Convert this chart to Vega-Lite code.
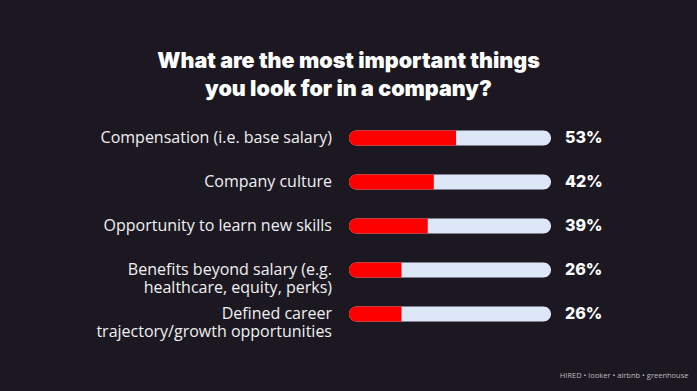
{
  "$schema": "https://vega.github.io/schema/vega-lite/v6.json",
  "width": 697,
  "height": 241,
  "autosize": {"type": "none"},
  "padding": {"top": 110, "left": 0, "right": 0, "bottom": 40},
  "background": "#1c1822",
  "config": {"view": {"stroke": null}},
  "title": {
    "text": ["What are the most important things", "you look for in a company?"],
    "font": "Inter",
    "fontWeight": 900,
    "fontSize": 21.5,
    "lineHeight": 28,
    "color": "#ffffff",
    "anchor": "middle",
    "frame": "group",
    "offset": 10
  },
  "data": {
    "values": [
      {"item": "Compensation (i.e. base salary)", "pct": 0.53},
      {"item": "Company culture", "pct": 0.42},
      {"item": "Opportunity to learn new skills", "pct": 0.39},
      {"item": "Benefits beyond salary (e.g.\nhealthcare, equity, perks)", "pct": 0.26},
      {"item": "Defined career\ntrajectory/growth opportunities", "pct": 0.26}
    ]
  },
  "encoding": {
    "y": {
      "field": "item",
      "type": "nominal",
      "sort": null,
      "scale": {"type": "point", "range": [28, 204], "padding": 0},
      "axis": null
    }
  },
  "layer": [
    {
      "mark": {"type": "bar", "color": "#dde7f7", "height": 15, "cornerRadius": 7.5},
      "encoding": {
        "x": {
          "datum": 0,
          "type": "quantitative",
          "scale": {"domain": [-1.7277, 1.7228], "nice": false, "zero": false},
          "axis": {
            "title": "HIRED • looker • airbnb • greenhouse",
            "labels": false,
            "ticks": false,
            "domain": false,
            "grid": false,
            "titleColor": "#bbbbbb",
            "titleFont": "Open Sans",
            "titleFontSize": 7.5,
            "titleFontWeight": "normal",
            "titleAnchor": "end",
            "titleAlign": "right",
            "titleX": 688,
            "titleY": 20
          }
        },
        "x2": {"datum": 1}
      }
    },
    {
      "mark": {"type": "bar", "color": "#ff0000", "height": 15, "cornerRadiusTopLeft": 7.5, "cornerRadiusBottomLeft": 7.5},
      "encoding": {
        "x": {"field": "pct", "type": "quantitative"},
        "x2": {"datum": 0}
      }
    },
    {
      "mark": {"type": "text", "align": "right", "baseline": "middle", "dx": -17, "lineBreak": "\n", "lineHeight": 18, "font": "Open Sans", "fontSize": 16, "color": "#f0f0f0"},
      "encoding": {
        "x": {"datum": 0, "type": "quantitative"},
        "text": {"field": "item"}
      }
    },
    {
      "mark": {"type": "text", "align": "left", "baseline": "middle", "dx": 14, "font": "Inter", "fontWeight": 800, "fontSize": 16, "color": "#ffffff"},
      "encoding": {
        "x": {"datum": 1, "type": "quantitative"},
        "text": {"field": "pct", "format": ".0%"}
      }
    }
  ]
}
